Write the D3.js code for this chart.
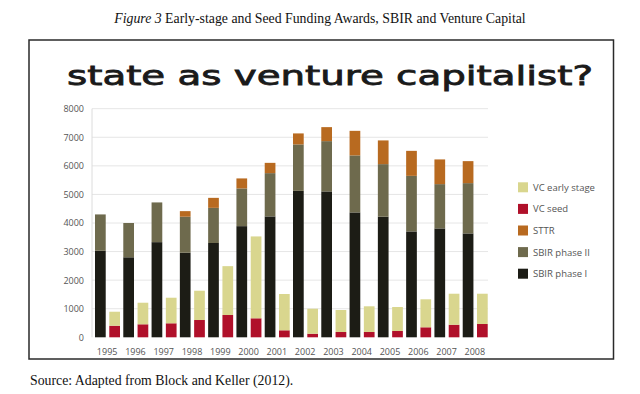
<!DOCTYPE html>
<html><head><meta charset="utf-8">
<script src="https://cdn.jsdelivr.net/npm/d3@7"></script>
<style>
html,body{margin:0;padding:0;background:#fff;}
svg{display:block;}
</style></head>
<body>
<svg id="chart" width="640" height="394"></svg>
<script>
const years = ["1995","1996","1997","1998","1999","2000","2001","2002","2003","2004","2005","2006","2007","2008"];
const sbirPhase1 = [3030,2800,3330,2960,3300,3890,4230,5125,5105,4370,4220,3705,3810,3635];
const sbirPhase2 = [1270,1200,1390,1260,1230,1320,1515,1625,1760,1995,1840,1945,1550,1760];
const sttr       = [0,0,0,195,350,350,360,385,490,860,830,875,865,770];
const vcSeed     = [405,455,490,605,780,665,245,125,185,185,220,350,440,465];
const vcEarly    = [490,755,895,1025,1710,2865,1270,875,770,900,840,980,1085,1060];
const yTicks = [0,1000,2000,3000,4000,5000,6000,7000,8000];
const legendLabels = ["VC early stage","VC seed","STTR","SBIR phase II","SBIR phase I"];

const colors = {
  "SBIR phase I":"#1c1c15",
  "SBIR phase II":"#6e6a4d",
  "STTR":"#b86a20",
  "VC seed":"#b0102a",
  "VC early stage":"#d9d68e"
};

const svg = d3.select("#chart");

// Page title
const t = svg.append("text").attr("x",320).attr("y",23).attr("text-anchor","middle")
  .style("font-family","'Liberation Serif','Times New Roman',serif").style("font-size","13.8px").attr("fill","#111");
t.append("tspan").style("font-style","italic").text("Figure 3");
t.append("tspan").text(" Early-stage and Seed Funding Awards, SBIR and Venture Capital");

// Frame
svg.append("rect").attr("x",29).attr("y",40).attr("width",584.5).attr("height",319)
  .attr("fill","#fff").attr("stroke","#2a2a2a").attr("stroke-width",1.5);

// Handwritten-style headline
svg.append("text").attr("x",67).attr("y",85)
  .attr("textLength",526).attr("lengthAdjust","spacingAndGlyphs")
  .style("font-family","'DejaVu Sans',sans-serif").style("font-size","27px").style("font-weight","normal")
  .attr("fill","#1a1a1a").attr("stroke","#1a1a1a").attr("stroke-width",0.8)
  .text("state as venture capitalist?");

// Scales
const y = d3.scaleLinear().domain([0,8000]).range([337.3,108.7]);
const x = d3.scaleBand().domain(years).range([92,488]).padding(0);
const x1 = d3.scaleBand().domain(["sbir","vc"]).range([3,28]).paddingInner(0.25);

// Gridlines
svg.append("g").selectAll("line").data(yTicks.filter(d=>d>0)).join("line")
  .attr("x1",92).attr("x2",488).attr("y1",d=>y(d)).attr("y2",d=>y(d))
  .attr("stroke","#e6e6e6").attr("stroke-width",1);
svg.append("line").attr("x1",92).attr("x2",92).attr("y1",y(8000)).attr("y2",y(0))
  .attr("stroke","#dcdcdc").attr("stroke-width",1);

// Y axis
const yAxis = d3.axisLeft(y).tickValues(yTicks).tickFormat(d3.format("d")).tickSize(0).tickPadding(8);
const yg = svg.append("g").attr("transform","translate(92,0)").call(yAxis);
yg.select(".domain").remove();
yg.selectAll("text").style("font-family","'Open Sans',sans-serif").style("font-size","9px").attr("fill","#555");

// X axis
const xAxis = d3.axisBottom(x).tickSize(0).tickPadding(0);
const xg = svg.append("g").attr("transform","translate(0,"+(y(0)+11)+")").call(xAxis);
xg.select(".domain").remove();
xg.selectAll("text").style("font-family","'Open Sans',sans-serif").style("font-size","9px").attr("fill","#555")
  .attr("dx","1");

// Stacks
const sbirKeys = ["SBIR phase I","SBIR phase II","STTR"];
const vcKeys = ["VC seed","VC early stage"];
const rows = years.map((yr,i)=>({year:yr,"SBIR phase I":sbirPhase1[i],"SBIR phase II":sbirPhase2[i],"STTR":sttr[i],"VC seed":vcSeed[i],"VC early stage":vcEarly[i]}));

function drawStack(keys, grp){
  const series = d3.stack().keys(keys)(rows);
  svg.append("g").selectAll("g").data(series).join("g")
    .attr("fill",d=>colors[d.key])
    .selectAll("rect").data(d=>d).join("rect")
    .attr("x",d=>x(d.data.year)+x1(grp))
    .attr("width",x1.bandwidth())
    .attr("y",d=>y(d[1]))
    .attr("height",d=>Math.max(0,y(d[0])-y(d[1])));
}
drawStack(sbirKeys,"sbir");
drawStack(vcKeys,"vc");

// Legend
const lg = svg.append("g").selectAll("g").data(legendLabels).join("g")
  .attr("transform",(d,i)=>"translate(518,"+(187.3+i*21.6)+")");
lg.append("rect").attr("x",0).attr("y",-5).attr("width",10).attr("height",10).attr("fill",d=>colors[d]);
lg.append("text").attr("x",15).attr("y",3.5)
  .style("font-family","'Open Sans',sans-serif").style("font-size","9.5px").attr("fill","#555").text(d=>d);

// Source
svg.append("text").attr("x",30).attr("y",385)
  .style("font-family","'Liberation Serif','Times New Roman',serif").style("font-size","13.8px").attr("fill","#111")
  .text("Source: Adapted from Block and Keller (2012).");
</script>
</body></html>
